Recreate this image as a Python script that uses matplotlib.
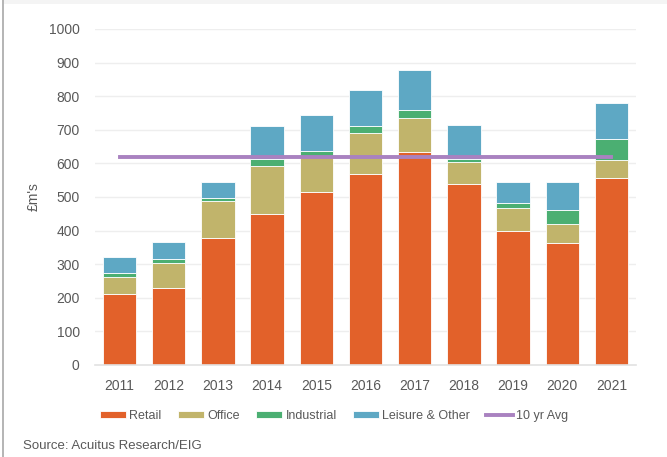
import matplotlib
matplotlib.use('Agg')
import matplotlib.pyplot as plt
import numpy as np

# Data (£m's)
years = ["2011", "2012", "2013", "2014", "2015", "2016", "2017", "2018", "2019", "2020", "2021"]
retail = [212, 230, 379, 450, 516, 569, 635, 540, 400, 364, 557]
office = [50, 73, 109, 143, 102, 121, 101, 63, 68, 56, 54]
industrial = [13, 13, 8, 19, 20, 21, 23, 11, 13, 42, 63]
leisure = [47, 50, 48, 99, 105, 107, 118, 99, 64, 83, 105]
avg_10yr = 620

colors = {
    "Retail": "#E2612A",
    "Office": "#C1B46B",
    "Industrial": "#4BAF72",
    "Leisure & Other": "#5EA8C4",
}
avg_color = "#A982C0"
text_color = "#595959"

plt.rcParams['font.family'] = ['Liberation Sans', 'DejaVu Sans']

fig = plt.figure(figsize=(6.67, 4.57), dpi=100)
ax = fig.add_axes([95 / 667, 1 - 365 / 457, (636 - 95) / 667, (365 - 29) / 457])

x = np.arange(len(years))
width = 0.68
bottom = np.zeros(len(years))
series = [("Retail", retail), ("Office", office), ("Industrial", industrial),
          ("Leisure & Other", leisure)]
for name, vals in series:
    ax.bar(x, vals, width, bottom=bottom, color=colors[name], label=name,
           edgecolor="white", linewidth=0.6, zorder=2)
    bottom += np.array(vals)

ax.plot([x[0], x[-1]], [avg_10yr, avg_10yr], color=avg_color, linewidth=2.8,
        label="10 yr Avg", zorder=3)

ax.set_xlim(-0.5, len(years) - 0.5)
ax.set_ylim(0, 1000)
ax.set_yticks(range(0, 1001, 100))
ax.set_xticks(x)
ax.set_xticklabels(years)
ax.tick_params(axis='both', length=0, labelsize=10, colors=text_color)
ax.tick_params(axis='y', pad=11)
ax.tick_params(axis='x', pad=10)
ax.grid(axis='y', color="#EEEEEE", linewidth=1, zorder=0)
ax.set_axisbelow(True)
for side in ["top", "right", "left"]:
    ax.spines[side].set_visible(False)
ax.spines["bottom"].set_color("#E2E2E2")
ax.spines["bottom"].set_linewidth(1.2)

ax.set_ylabel("£m's", color=text_color, fontsize=10, labelpad=6)

handles, labels = ax.get_legend_handles_labels()
order = [1, 2, 3, 4, 0]
leg = fig.legend([handles[i] for i in order], [labels[i] for i in order],
                 loc="center", bbox_to_anchor=(334 / 667, 1 - 416 / 457), ncol=5,
                 frameon=False, fontsize=9, handlelength=2.1, handleheight=0.55,
                 handletextpad=0.25, columnspacing=1.3)
for t in leg.get_texts():
    t.set_color(text_color)

fig.text(23 / 667, 1 - 446 / 457, "Source: Acuitus Research/EIG", color=text_color,
         fontsize=9.5, va="center", ha="left")

# frame line on the left edge
fig.add_artist(plt.Line2D([2.5 / 667, 2.5 / 667], [0, 1], color="#A8A8A8", linewidth=1.2))
fig.add_artist(plt.Rectangle((3.5 / 667, 1 - 4 / 457), 1, 4 / 457, color="#F4F4F4", linewidth=0))

fig.savefig("out.png", dpi=100)
